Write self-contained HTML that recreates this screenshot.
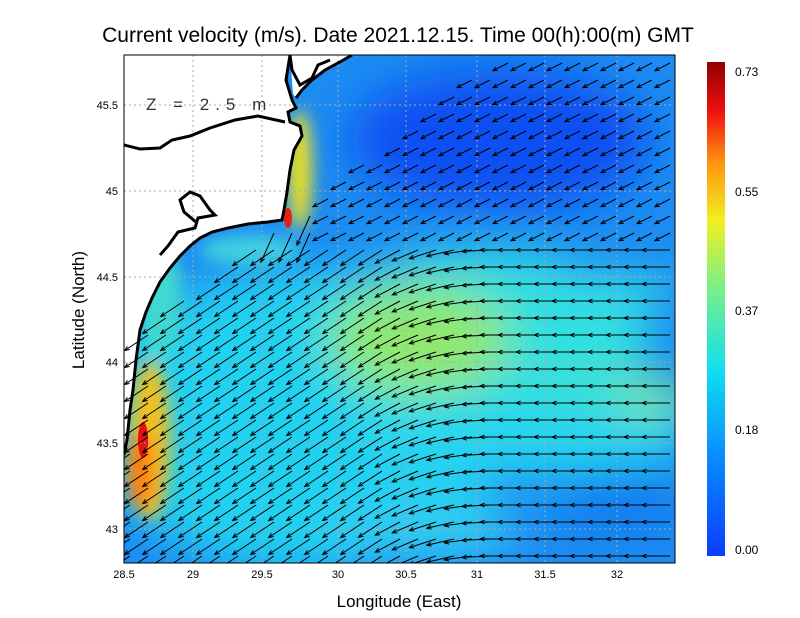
<!DOCTYPE html>
<html><head><meta charset="utf-8"><style>
html,body{margin:0;padding:0;background:#fff;width:800px;height:618px;overflow:hidden}
svg text{font-family:"Liberation Sans",sans-serif}
</style></head><body>
<svg id="s" width="800" height="618" xmlns="http://www.w3.org/2000/svg">
<defs>
<clipPath id="pc"><rect x="124" y="55" width="551" height="508"/></clipPath>
<filter id="b1" x="-50%" y="-50%" width="200%" height="200%"><feGaussianBlur stdDeviation="22"/></filter>
<filter id="b2" x="-50%" y="-50%" width="200%" height="200%"><feGaussianBlur stdDeviation="8"/></filter>
<linearGradient id="cb" x1="0" y1="1" x2="0" y2="0">
<stop offset="0" stop-color="#0a3cff"/><stop offset="0.2" stop-color="#0a8cff"/><stop offset="0.38" stop-color="#10e0f0"/>
<stop offset="0.55" stop-color="#80f080"/><stop offset="0.68" stop-color="#f0f020"/><stop offset="0.8" stop-color="#ff9010"/>
<stop offset="0.9" stop-color="#f01010"/><stop offset="1" stop-color="#900000"/></linearGradient>
</defs>
<g clip-path="url(#pc)">
<rect x="124" y="55" width="551" height="508" fill="#1c8cf2"/>
<g filter="url(#b1)">
<ellipse cx="300" cy="420" rx="210" ry="150" fill="#22d0f0"/>
<ellipse cx="480" cy="340" rx="170" ry="90" fill="#30e0e0"/>
<ellipse cx="420" cy="340" rx="90" ry="55" fill="#90e870"/>
<ellipse cx="600" cy="290" rx="80" ry="18" fill="#30d8e8"/>
<ellipse cx="610" cy="400" rx="90" ry="25" fill="#40e0d0"/>
<ellipse cx="650" cy="400" rx="30" ry="15" fill="#90ec70"/>
<ellipse cx="520" cy="440" rx="170" ry="35" fill="#28d4f0"/>
<ellipse cx="500" cy="140" rx="150" ry="70" fill="#0c50f2"/>
<ellipse cx="620" cy="500" rx="60" ry="25" fill="#1078f0"/>
<ellipse cx="420" cy="530" rx="100" ry="30" fill="#30ccf0"/>
</g>
<g filter="url(#b2)">
<ellipse cx="300" cy="170" rx="12" ry="60" fill="#f0e020"/>
<ellipse cx="250" cy="250" rx="50" ry="15" fill="#40d0e0"/>
<ellipse cx="160" cy="300" rx="22" ry="60" fill="#40d8d0"/>
<ellipse cx="150" cy="440" rx="20" ry="80" fill="#f0c020"/>
<ellipse cx="140" cy="470" rx="14" ry="40" fill="#ff8010"/>
</g>
<ellipse cx="143" cy="440" rx="5" ry="18" fill="#e81010"/>
<ellipse cx="288" cy="218" rx="4" ry="10" fill="#e82010"/>
<path d="M124,55 L290,55 L286,80 L292,100 L296,108 L288,112 L290,122 L300,126 L302,136 L294,150 L290,170 L287,192 L284,210 L282,220 L268,222 L248,224 L228,228 L212,232 L200,238 L190,246 L180,256 L170,268 L160,282 L152,298 L146,312 L140,330 L136,360 L133,390 L130,410 L127,440 L124,455 Z" fill="#fff"/>
<path d="M352,55 L340,62 L325,70 L312,80 L302,90 L296,98 L293,94 L290,55 Z" fill="#fff"/>
<g fill="none" stroke="#aaa" stroke-dasharray="2,3" stroke-width="1">
<line x1="193" y1="55" x2="193" y2="563"/><line x1="262" y1="55" x2="262" y2="563"/><line x1="338" y1="55" x2="338" y2="563"/>
<line x1="406" y1="55" x2="406" y2="563"/><line x1="477" y1="55" x2="477" y2="563"/><line x1="545" y1="55" x2="545" y2="563"/><line x1="617" y1="55" x2="617" y2="563"/>
<line x1="124" y1="105" x2="675" y2="105"/><line x1="124" y1="191" x2="675" y2="191"/><line x1="124" y1="277" x2="675" y2="277"/>
<line x1="124" y1="362" x2="675" y2="362"/><line x1="124" y1="443" x2="675" y2="443"/><line x1="124" y1="529" x2="675" y2="529"/>
</g>
<g id="arr" stroke="#000" stroke-width="1" fill="none"></g>
<g fill="none" stroke="#000" stroke-width="3">
<path d="M290,55 L286,80 L292,100 L296,108 L288,112 L290,122 L300,126 L302,136 L294,150 L290,170 L287,192 L284,210 L282,220 L268,222 L248,224 L228,228 L212,232 L200,238 L190,246 L180,256 L170,268 L160,282 L152,298 L146,312 L140,330 L136,360 L133,390 L130,410 L127,440 L124,455"/>
<path d="M352,55 L340,62 L325,70 L312,80 L302,90 L296,98"/>
<path d="M124,145 L140,149 L160,148 L172,140 L190,136 L210,128 L235,120 L258,116 L285,122"/>
<path d="M290,55 L292,70 L300,85 L312,78 L318,65 L330,60"/>
<path d="M196,222 L184,212 L180,200 L190,192 L200,196 L210,210 L215,215 L198,218 L195,228 L178,232 L168,246 L160,255"/>
</g>
</g>
<rect x="124" y="55" width="551" height="508" fill="none" stroke="#000" stroke-width="1"/>
<text x="146" y="110" font-size="17" fill="#333" letter-spacing="6">Z = 2.5 m</text>
<g font-size="11" fill="#000" text-anchor="middle">
<text x="124" y="578">28.5</text><text x="193" y="578">29</text><text x="262" y="578">29.5</text><text x="338" y="578">30</text>
<text x="406" y="578">30.5</text><text x="477" y="578">31</text><text x="545" y="578">31.5</text><text x="617" y="578">32</text>
</g>
<g font-size="11" fill="#000" text-anchor="end">
<text x="118" y="109">45.5</text><text x="118" y="195">45</text><text x="118" y="281">44.5</text><text x="118" y="366">44</text>
<text x="118" y="447">43.5</text><text x="118" y="533">43</text>
</g>
<text x="399" y="607" font-size="17" text-anchor="middle">Longitude (East)</text>
<text transform="translate(84,310) rotate(-90)" font-size="17" text-anchor="middle">Latitude (North)</text>
<text x="398" y="42" font-size="21" text-anchor="middle">Current velocity (m/s). Date 2021.12.15. Time 00(h):00(m) GMT</text>
<rect x="707" y="62" width="18" height="494" fill="url(#cb)"/>
<g font-size="12" fill="#000">
<text x="735" y="76">0.73</text><text x="735" y="315">0.37</text><text x="735" y="196">0.55</text>
<text x="735" y="434">0.18</text><text x="735" y="554">0.00</text>
</g>
</svg>
<script>
(function(){
var g=document.getElementById('arr'),s='';
function land(x,y){
 if(y<222&&x<292)return true;
 if(y<100&&x<300+(100-y)*0.9)return true;
 var cx;
 if(y<330){cx=282-(y-222)*1.3;} else if(y<455){cx=140-(y-330)*0.13;} else cx=0;
 return x<cx+4;
}
for(var y=63;y<563;y+=17){
 for(var x=130;x<675;x+=18){
  if(land(x,y))continue;
  var ang,len;
  var ex=Math.min(1,Math.max(0,(x-380)/120));
  var sw=Math.PI*1.25-0.2, w=Math.PI;
  if(y<245&&x>320){ang=Math.PI*1.15;len=17;}
  else {ang=sw*(1-ex)+w*ex;len=28;}
  if(x<320&&y<235){ang=Math.PI*1.35+0.05;len=32;}
  var dx=Math.cos(ang)*len,dy=-Math.sin(ang)*len;
  var x2=x+dx,y2=y+dy;
  var a=Math.atan2(dy,dx),h=5;
  s+='<path d="M'+x.toFixed(1)+','+y.toFixed(1)+'L'+x2.toFixed(1)+','+y2.toFixed(1)+'M'+(x2-h*Math.cos(a-0.4)).toFixed(1)+','+(y2-h*Math.sin(a-0.4)).toFixed(1)+'L'+x2.toFixed(1)+','+y2.toFixed(1)+'L'+(x2-h*Math.cos(a+0.4)).toFixed(1)+','+(y2-h*Math.sin(a+0.4)).toFixed(1)+'"/>';
 }
}
g.innerHTML=s;
})();
</script>
</body></html>
